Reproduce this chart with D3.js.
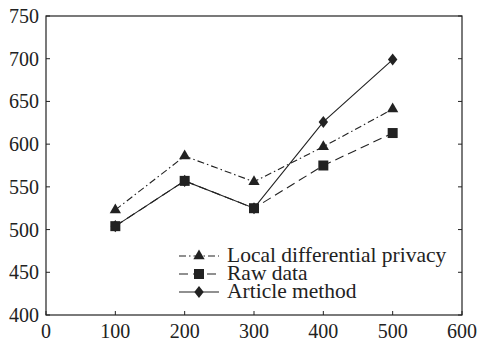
<!DOCTYPE html>
<html>
<head>
<meta charset="utf-8">
<script src="https://cdn.jsdelivr.net/npm/d3@7"></script>
<style>
  body { margin: 0; background: #fff; }
</style>
</head>
<body>
<div id="chart"></div>
<script>

// data
var xValues = [100, 200, 300, 400, 500];
var ldpValues = [523, 586, 556, 597, 641];
var rawValues = [504, 557, 525, 575, 613];
var articleValues = [504, 557, 525, 626, 699];
var seriesNames = ["Local differential privacy", "Raw data", "Article method"];
var xTicks = [0, 100, 200, 300, 400, 500, 600];
var yTicks = [400, 450, 500, 550, 600, 650, 700, 750];

var W = 477, H = 343;
var margin = {top: 16, right: 15, bottom: 28, left: 46};
var font = "'Liberation Serif', 'Times New Roman', serif";

var svg = d3.select("#chart").append("svg")
  .attr("width", W)
  .attr("height", H);

var x = d3.scaleLinear().domain([0, 600]).range([margin.left, W - margin.right]);
var y = d3.scaleLinear().domain([400, 750]).range([H - margin.bottom, margin.top]);

var ink = "#222";

// custom diamond (a bit wider than d3's)
var diamond = {
  draw: function(ctx, size) {
    var h = Math.sqrt(size) * 0.62, w = h * 0.78;
    ctx.moveTo(0, -h);
    ctx.lineTo(w, 0);
    ctx.lineTo(0, h);
    ctx.lineTo(-w, 0);
    ctx.closePath();
  }
};

var series = [
  {name: seriesNames[0], values: ldpValues, dash: "7,3,1.5,3", symbol: d3.symbolTriangle, size: 55},
  {name: seriesNames[1], values: rawValues, dash: "9,5", symbol: d3.symbolSquare, size: 100},
  {name: seriesNames[2], values: articleValues, dash: null, symbol: diamond, size: 95}
];

// frame
svg.append("rect")
  .attr("x", x(0)).attr("y", y(750))
  .attr("width", x(600) - x(0)).attr("height", y(400) - y(750))
  .attr("fill", "none").attr("stroke", ink).attr("stroke-width", 1.2);

// inward ticks
var tl = 4;
svg.selectAll(".ytickL").data(yTicks).enter().append("line")
  .attr("x1", x(0)).attr("x2", x(0) + tl)
  .attr("y1", d => y(d)).attr("y2", d => y(d))
  .attr("stroke", ink);
svg.selectAll(".ytickR").data(yTicks).enter().append("line")
  .attr("x1", x(600)).attr("x2", x(600) - tl)
  .attr("y1", d => y(d)).attr("y2", d => y(d))
  .attr("stroke", ink);
svg.selectAll(".xtick").data(xTicks).enter().append("line")
  .attr("x1", d => x(d)).attr("x2", d => x(d))
  .attr("y1", y(400)).attr("y2", y(400) - tl)
  .attr("stroke", ink);

// tick labels
svg.selectAll(".ylab").data(yTicks).enter().append("text")
  .attr("x", x(0) - 7)
  .attr("y", d => y(d) + 7)
  .attr("text-anchor", "end")
  .attr("font-family", font)
  .attr("font-size", 20)
  .attr("fill", ink)
  .text(d => d);
svg.selectAll(".xlab").data(xTicks).enter().append("text")
  .attr("x", d => x(d))
  .attr("y", y(400) + 23)
  .attr("text-anchor", "middle")
  .attr("font-family", font)
  .attr("font-size", 20)
  .attr("fill", ink)
  .text(d => d);

var line = d3.line()
  .x((d, i) => x(xValues[i]))
  .y(d => y(d));

// lines
svg.selectAll(".series").data(series).enter().append("path")
  .attr("d", d => line(d.values))
  .attr("fill", "none")
  .attr("stroke", ink)
  .attr("stroke-width", 1.1)
  .attr("stroke-dasharray", d => d.dash);

// markers
series.forEach(function(s) {
  svg.selectAll(null).data(s.values).enter().append("path")
    .attr("d", d3.symbol().type(s.symbol).size(s.size))
    .attr("transform", (d, i) => "translate(" + x(xValues[i]) + "," + y(d) + ")")
    .attr("fill", ink);
});

// legend
var legX = 179, legY = 256, legStep = 18;
var leg = svg.selectAll(".legend").data(series).enter().append("g")
  .attr("transform", (d, i) => "translate(" + legX + "," + (legY + i * legStep) + ")");
leg.append("line")
  .attr("x1", 0).attr("x2", 40)
  .attr("stroke", ink).attr("stroke-width", 1.1)
  .attr("stroke-dasharray", d => d.dash);
leg.append("path")
  .attr("d", d => d3.symbol().type(d.symbol).size(d.size)())
  .attr("transform", "translate(20,0)")
  .attr("fill", ink);
leg.append("text")
  .attr("x", 48)
  .attr("y", 6)
  .attr("font-family", font)
  .attr("font-size", 21.5)
  .attr("fill", ink)
  .text(d => d.name);

</script>
</body>
</html>
